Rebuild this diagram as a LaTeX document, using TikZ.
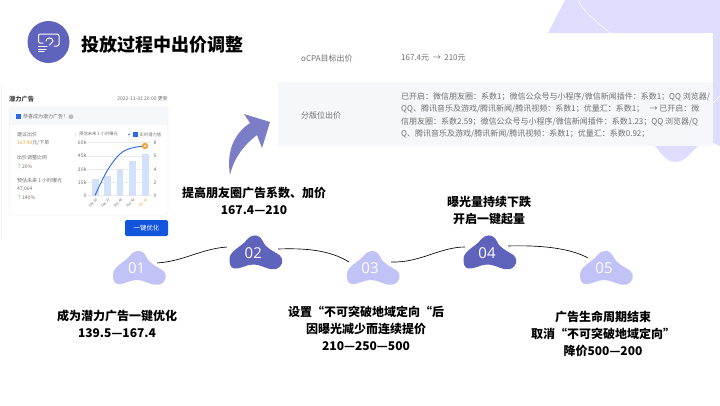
\documentclass[tikz,border=0pt]{standalone}
\usepackage{fontspec}
\setmainfont{Noto Sans CJK SC}
\newfontfamily\latinf{Open Sans}
\definecolor{lilac}{HTML}{DEDDFD}
\definecolor{blob}{HTML}{C1C2F5}
\definecolor{blobd}{HTML}{6063BB}
\definecolor{arrowc}{HTML}{7B7DC6}
\definecolor{rowbg}{HTML}{F5F7FA}
\definecolor{greyt}{HTML}{707070}
\definecolor{barc}{HTML}{D3E1FB}
\definecolor{linec}{HTML}{2C68E8}
\definecolor{btn}{HTML}{1155DD}
\definecolor{orangec}{HTML}{F5A033}
\definecolor{upc}{HTML}{6CBF6C}
\tikzset{
 x=1pt,y=-1pt,
 captxt/.style={font=\fontsize{12}{17}\selectfont\bfseries,align=center,text=black,inner sep=0pt},
 small/.style={font=\fontsize{8}{12.5}\selectfont,text=greyt,inner sep=0pt,anchor=west},
 tiny/.style={font=\fontsize{5}{6}\selectfont,text=greyt,inner sep=0pt,anchor=west},
 legendtxt/.style={font=\fontsize{4.3}{5}\selectfont,text=greyt,inner sep=0pt,anchor=west},
 ticktxt/.style={font=\fontsize{3.6}{4}\selectfont,text=greyt,inner sep=0pt,rotate=45,anchor=east},
 num/.style={font=\latinf\fontsize{15}{15}\selectfont,text=white,inner sep=0pt},
 link/.style={line width=0.65pt,black}
}
\newcommand{\blobpath}[3]{\fill[#3,shift={(#1,#2)}] (-26.5,6) .. controls (-26,-2) and (-14,-6) .. (-9,-13) .. controls (-6,-17.5) and (3,-20) .. (7,-11) .. controls (10,-4) and (17,-2) .. (24,3) .. controls (28,7) and (27,14) .. (20,16.5) .. controls (13,18.5) and (6,12) .. (-3,12) .. controls (-10,12) and (-16,17) .. (-22,16) .. controls (-26,15) and (-26.5,11) .. (-26.5,6) -- cycle;}
\begin{document}
\begin{tikzpicture}
\useasboundingbox (0,0) rectangle (720,405);
\fill[white] (0,0) rectangle (720,405);
% decoration top right
\fill[lilac] (565,0) -- (720,0) -- (720,146) -- (713,143) -- (698,146) .. controls (688,156) and (684,162) .. (675,162) .. controls (666,162) and (662,154) .. (655,146) -- (548,33) -- cycle;
\fill[white] (270,33) rectangle (713,146);
\fill[rowbg] (278,82) rectangle (713,146);
\draw[white,line width=.6pt] (579,0) .. controls (581,10) and (595,20) .. (610,33);
\draw[white,line width=.6pt] (713,103) -- (720,96);
% title
\fill[blobd] (48.5,42) circle (21);
\begin{scope}[white,line width=1pt,line cap=round]
\draw (43,43) -- (40,43) .. controls (39,43) and (38.5,42) .. (38.5,41) -- (38.5,36) .. controls (38.5,35) and (39,34) .. (40,34) -- (57,34) .. controls (58,34) and (59,35) .. (59,36) -- (59,44) .. controls (59,45) and (58,46) .. (57,46) -- (54,46);
\draw (46,41) .. controls (46,37) and (53,37) .. (53,41) .. controls (53,43) and (50,43) .. (49.5,45);
\draw (38.5,46.5) -- (47,46.5) (38.5,49) -- (46,49) (38.5,51.5) -- (44,51.5);
\end{scope}
\node (title) [font=\fontsize{18}{20}\selectfont\bfseries,inner sep=0pt,anchor=west] at (81.5,44.5) {投放过程中出价调整};
% right table
\node (t1) [small] at (301,58) {oCPA目标出价};
\node (t2) [small] at (401,58) {167.4元\ \ →\ \ 210元};
\node (t3) [small] at (301,115) {分版位出价};
\node (t4) [small,align=left] at (401,115.5) {已开启：微信朋友圈：系数1；微信公众号与小程序/微信新闻插件：系数1；QQ 浏览器/\\QQ、腾讯音乐及游戏/腾讯新闻/腾讯视频：系数1；优量汇：系数1；\ \ \ →\ 已开启：微\\信朋友圈：系数2.59；微信公众号与小程序/微信新闻插件：系数1.23；QQ 浏览器/Q\\Q、腾讯音乐及游戏/腾讯新闻/腾讯视频：系数1；优量汇：系数0.92；};
% arrow
\fill[arrowc] (230,175) .. controls (226,150) and (235,133) .. (250,123) -- (244,114) -- (270,122) -- (262,148) -- (257,135) .. controls (243,146) and (234,158) .. (230,175) -- cycle;
% card
\draw[black!6,line width=.5pt] (1,85) -- (1,240);
\draw[black!8,fill=rowbg,line width=.3pt,rounded corners=2pt] (9,107) rectangle (168,215);
\fill[white,rounded corners=2pt] (9.5,125) rectangle (167.5,214.5);
\node (c1) [font=\fontsize{6.2}{7}\selectfont\bfseries,inner sep=0pt,anchor=west,text=black!75] at (9,99) {潜力广告};
\node (c2) [tiny,anchor=east] at (168,99) {2022-11-01 20:00 更新};
\fill[linec] (16,114) rectangle (21,119);
\node (c3) [tiny] at (23,116.7) {恭喜成为潜力广告！};
\fill[black!25] (71,116.7) circle (2.5);
\node (c4) [tiny] at (17,135) {建议出价};
\node (c5) [tiny,text=orangec] at (17,143.3) {167.40\textcolor{greyt}{元/下单}};
\node (c6) [tiny] at (17,158) {出价调整比例};
\node (c7) [tiny] at (17,166.7) {\textcolor{upc}{↑}20\%};
\node (c8) [tiny] at (17,180.7) {预估未来 1 小时曝光};
\node (c9) [tiny] at (17,189) {47,064};
\node (c10) [tiny] at (17,197.7) {\textcolor{upc}{↑}140\%};
\fill[barc] (75.5,134) circle (1);
\node (c11) [legendtxt] at (79,134) {预估未来 1 小时曝光};
\fill[linec] (129,134.5) circle (.8);
\fill[linec] (133,132) rectangle (138,137);
\node (c12) [legendtxt] at (139.5,134.5) {实时潜力值};
% chart
\foreach \yy in {142.5,156,169.5,182.5,195.5}{\draw[black!8,line width=.3pt] (85,\yy) -- (151,\yy);}
\fill[barc] (92,179) rectangle (98.5,195.5);
\fill[barc] (104.3,176) rectangle (110.8,195.5);
\fill[barc] (116.8,169) rectangle (123.3,195.5);
\fill[barc] (129.3,161) rectangle (135.8,195.5);
\fill[barc] (142,154) rectangle (148.5,195.5);
\draw[linec,line width=.9pt] plot[smooth,tension=.6] coordinates {(95,195.5) (107,171) (120,154) (132,148) (145,146)};
\fill[orangec] (145,146) circle (3.2);
\fill[white] (145,146) circle (1.1);
\foreach \t/\yy in {60k/142.5,45k/156,30k/169.5,15k/182.5,0/195.5}{\node[tiny,anchor=east] at (86.5,\yy) {\t};}
\foreach \t/\yy in {8/142.5,6/156,4/169.5,2/182.5,0/195.5}{\node[tiny] at (153.5,\yy) {\t};}
\foreach \t/\xx in {139.50/97,146.37/109.5,153.45/122,160.42/134.5}{\node[ticktxt] at (\xx,199) {\t};}
\node (c13) [ticktxt,text=orangec] at (147,199) {167.40};
\node (btn) [fill=btn,rounded corners=1.5pt,minimum width=43pt,minimum height=16pt,text=white,font=\fontsize{6.4}{7}\selectfont,inner sep=0pt] at (146.5,228) {一键优化};
% blobs
\blobpath{139.5}{268}{blob}
\blobpath{256}{252.5}{blobd}
\blobpath{373.3}{268}{blob}
\blobpath{490}{252.5}{blobd}
\blobpath{606.6}{268}{blob}
\node (n1) [num] at (136.7,268) {01};
\node (n2) [num] at (253.3,253.5) {02};
\node (n3) [num] at (370,268) {03};
\node (n4) [num] at (487,253.5) {04};
\node (n5) [num] at (604,268) {05};
\coordinate (a1) at (157,263);
\coordinate (b1) at (227,247);
\coordinate (a2) at (278,249);
\coordinate (b2) at (349,262);
\coordinate (a3) at (391,262);
\coordinate (b3) at (465,247);
\coordinate (a4) at (508,246);
\coordinate (b4) at (588,258);
\draw[link] (a1) .. controls (185,261) and (200,249) .. (b1);
\draw[link] (a2) .. controls (305,248) and (330,250) .. (b2);
\draw[link] (a3) .. controls (420,263) and (440,247) .. (b3);
\draw[link] (a4) .. controls (540,245) and (570,248) .. (b4);
% captions
\node (p1) [captxt] at (117,323.5) {成为潜力广告一键优化\\139.5—167.4};
\node (p2) [captxt] at (254,200.5) {提高朋友圈广告系数、加价\\167.4—210};
\node (p3) [captxt] at (366,328) {设置“不可突破地域定向“后\\因曝光减少而连续提价\\210—250—500};
\node (p4) [captxt] at (489,210.5) {曝光量持续下跌\\开启一键起量};
\node (p5) [captxt] at (603,334) {广告生命周期结束\\取消“不可突破地域定向”\\降价500—200};
\end{tikzpicture}
\end{document}
